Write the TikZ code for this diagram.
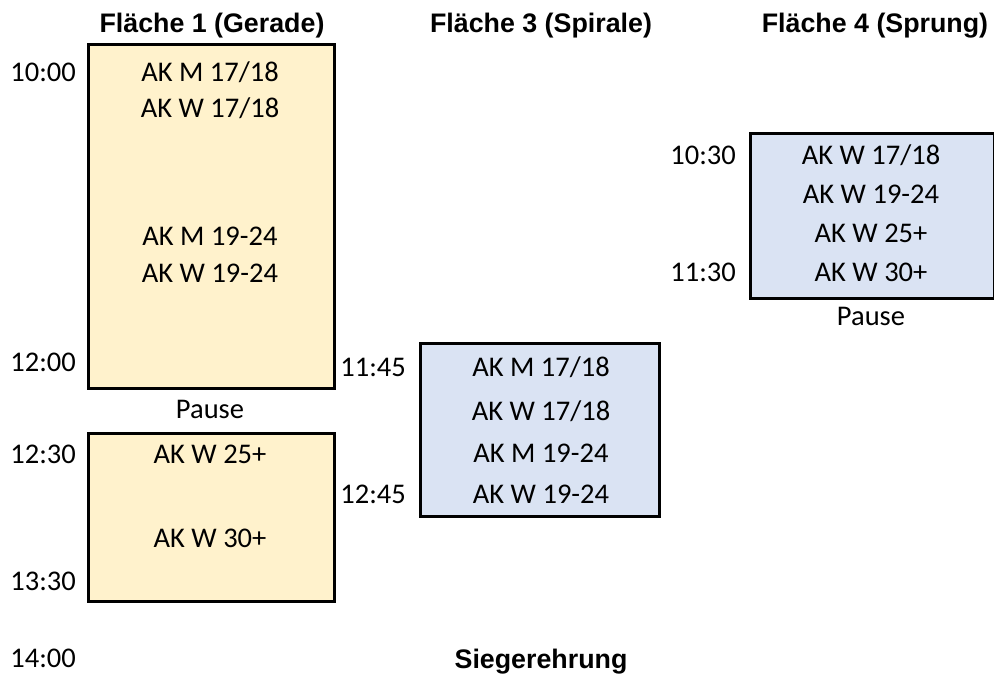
\documentclass[tikz,border=0pt]{standalone}
\usepackage{fontspec}
\setmainfont{Carlito}
\newfontfamily\hdfont{Liberation Sans}
\definecolor{gold}{HTML}{FFF2CC}
\definecolor{lblue}{HTML}{DAE3F3}
\tikzset{
  slot/.style={draw=black, line width=2.8bp, inner sep=0pt, anchor=north west},
  goldslot/.style={slot, fill=gold},
  blueslot/.style={slot, fill=lblue},
  txt/.style={inner sep=0pt, anchor=base, font=\fontsize{28.5bp}{34bp}\selectfont},
  tm/.style={txt, anchor=base east},
  hd/.style={inner sep=0pt, anchor=base, font=\hdfont\bfseries\fontsize{26.8bp}{30bp}\selectfont},
}
\begin{document}
\begin{tikzpicture}[x=1bp,y=-1bp]
\useasboundingbox (0,0) rectangle (994,676);
% headers
\node[hd] (h1) at (212,33) {Fläche 1 (Gerade)};
\node[hd] (h3) at (541,33) {Fläche 3 (Spirale)};
\node[hd] (h4) at (875,33) {Fläche 4 (Sprung)};
% boxes
\node[goldslot, minimum width=246bp, minimum height=344bp] (b1) at (87,43) {};
\node[goldslot, minimum width=246bp, minimum height=168bp] (b2) at (87,432) {};
\node[blueslot, minimum width=239bp, minimum height=173bp] (b3) at (419,342) {};
\node[blueslot, minimum width=244bp, minimum height=165bp] (b4) at (749,132) {};
% column 1
\node[tm] (t1000) at (76,82) {10:00};
\node[tm] (t1200) at (76,371) {12:00};
\node[tm] (t1230) at (76,463) {12:30};
\node[tm] (t1330) at (76,590) {13:30};
\node[tm] (t1400) at (76,667) {14:00};
\node[txt] (a1) at (210,82) {AK M 17/18};
\node[txt] (a2) at (210,118) {AK W 17/18};
\node[txt] (a3) at (210,245) {AK M 19-24};
\node[txt] (a4) at (210,282) {AK W 19-24};
\node[txt] (p1) at (210,418) {Pause};
\node[txt] (a5) at (210,463) {AK W 25+};
\node[txt] (a6) at (210,547) {AK W 30+};
% column 3
\node[tm] (t1145) at (406,376) {11:45};
\node[tm] (t1245) at (406,503) {12:45};
\node[txt] (c1) at (541,376) {AK M 17/18};
\node[txt] (c2) at (541,420) {AK W 17/18};
\node[txt] (c3) at (541,462) {AK M 19-24};
\node[txt] (c4) at (541,503) {AK W 19-24};
% column 4
\node[tm] (t1030) at (736,165) {10:30};
\node[tm] (t1130) at (736,281) {11:30};
\node[txt] (d1) at (871,165) {AK W 17/18};
\node[txt] (d2) at (871,203) {AK W 19-24};
\node[txt] (d3) at (871,242) {AK W 25+};
\node[txt] (d4) at (871,281) {AK W 30+};
\node[txt] (p4) at (871,325) {Pause};
% footer
\node[hd] (sieg) at (541,668) {Siegerehrung};
\end{tikzpicture}
\end{document}
